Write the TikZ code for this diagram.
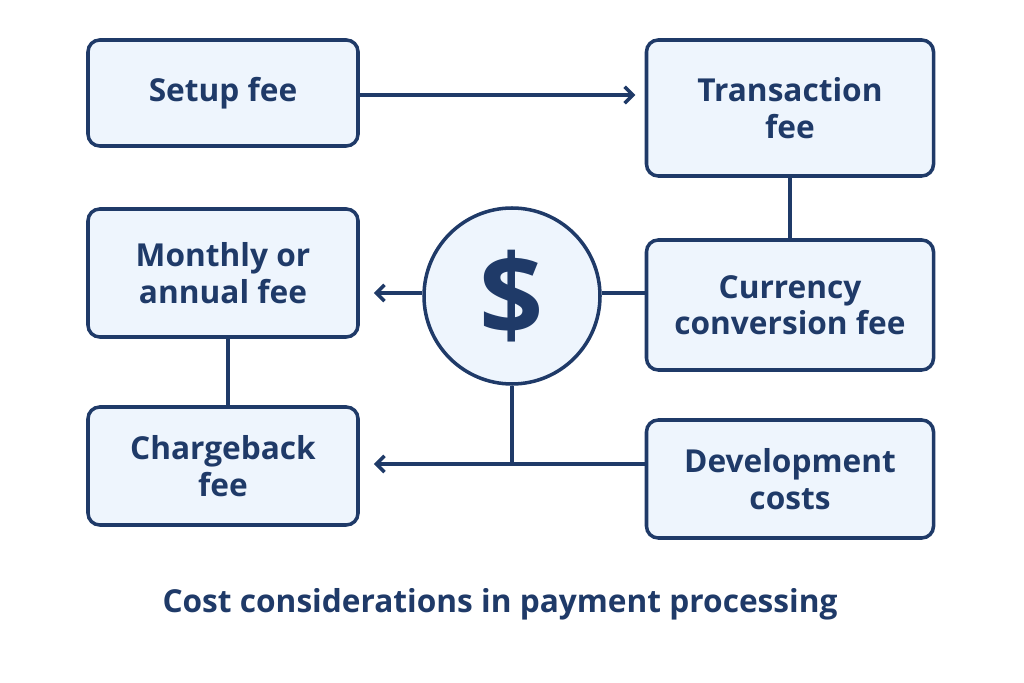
\documentclass[tikz,border=0pt]{standalone}
\usepackage{fontspec}
\setmainfont{Open Sans}
\usetikzlibrary{arrows.meta,positioning}
\definecolor{navy}{HTML}{1F3A68}
\definecolor{pale}{HTML}{EEF5FD}

\begin{document}
\begin{tikzpicture}[x=0.03cm,y=-0.03cm,% styles used in image code
         > = {Straight Barb[length=7pt,width=14pt]},
fee/.style = {draw=navy, line width=3pt, fill=pale, rounded corners=10pt,
              text=navy, font=\fontsize{27}{31}\selectfont\bfseries,
              align=center, inner sep=0pt},
link/.style = {draw=navy, line width=3pt}
                        ]
	\useasboundingbox (0,0) rectangle (1024,683);
	% fee boxes
	\node[fee, minimum width=270*0.03cm, minimum height=106*0.03cm] (setup) at (223,93) {Setup fee};
	\node[fee, minimum width=287*0.03cm, minimum height=136*0.03cm] (trans) at (790,108) {Transaction\\fee};
	\node[fee, minimum width=270*0.03cm, minimum height=128*0.03cm] (month) at (223,273) {Monthly or\\annual fee};
	\node[fee, minimum width=287*0.03cm, minimum height=130*0.03cm] (curr) at (790,305) {Currency\\conversion fee};
	\node[fee, minimum width=270*0.03cm, minimum height=118*0.03cm] (charge) at (223,466) {Chargeback\\fee};
	\node[fee, minimum width=287*0.03cm, minimum height=118*0.03cm] (dev) at (790,479) {Development\\costs};
	% dollar circle
	\node[circle, draw=navy, line width=3pt, fill=pale, minimum size=176*0.03cm, inner sep=0pt,
	      text=navy, font=\fontsize{96}{96}\selectfont\bfseries] (coin) at (512,296) {\$};
	\coordinate (join) at (512,464);
	% connectors
	\draw[link,->] (setup.east |- 0,95) -- ([xshift=-8pt]trans.west |- 0,95);
	\draw[link] (trans.south) -- (curr.north);
	\draw[link] (month.south -| 228,0) -- (charge.north -| 228,0);
	\draw[link,->] (coin.west |- 0,293) -- ([xshift=12pt]month.east |- 0,293);
	\draw[link] (coin.east |- 0,293) -- (curr.west |- 0,293);
	\draw[link] (coin.south) -- (join);
	\draw[link,->] (dev.west |- join) -- ([xshift=12pt]charge.east |- join);
	% caption
	\node[text=navy, font=\fontsize{27}{31}\selectfont\bfseries] (title) at (500,604) {Cost considerations in payment processing};
\end{tikzpicture}
\end{document}
